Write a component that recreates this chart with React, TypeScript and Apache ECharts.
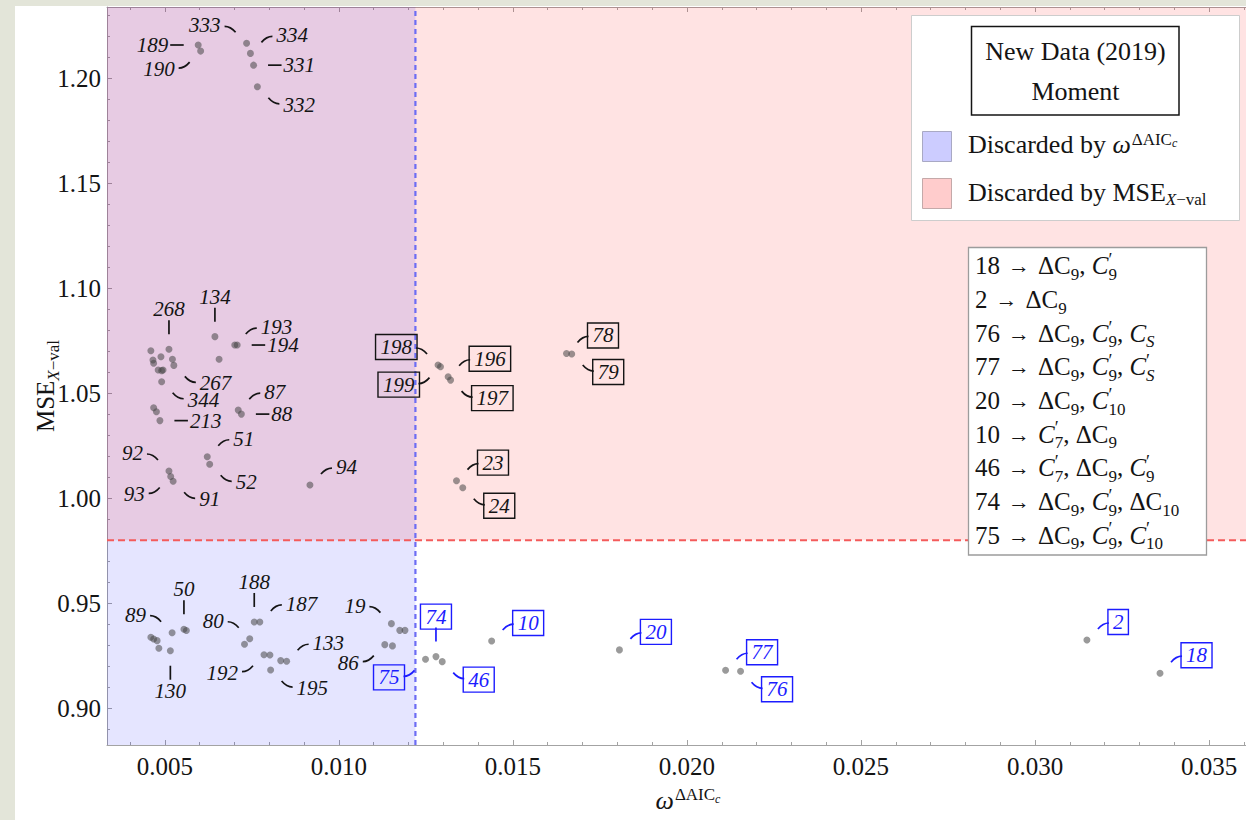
import React, { useEffect, useRef } from 'react';
import * as echarts from 'echarts';

// Each model: [label, ω^{ΔAICc}, MSE_{X-val}]; an empty label is an unlabelled model.
const topCluster: [string, number, number][] = [
  ['333', 0.00735, 1.2167],
  ['334', 0.00746, 1.2119],
  ['331', 0.00755, 1.2063],
  ['332', 0.00766, 1.196],
  ['189', 0.00596, 1.2159],
  ['190', 0.00603, 1.213],
];

const midCluster: [string, number, number][] = [
  ['', 0.0046, 1.0703],
  ['268', 0.00512, 1.071],
  ['', 0.00489, 1.0674],
  ['', 0.00466, 1.0659],
  ['', 0.00468, 1.0643],
  ['', 0.00522, 1.0662],
  ['267', 0.00526, 1.0633],
  ['', 0.00481, 1.0611],
  ['', 0.00491, 1.0608],
  ['', 0.00495, 1.0611],
  ['344', 0.00491, 1.0555],
  ['134', 0.00644, 1.077],
  ['', 0.00656, 1.0662],
  ['193', 0.00701, 1.073],
  ['194', 0.00708, 1.073],
  ['', 0.00468, 1.0431],
  ['', 0.00476, 1.0412],
  ['213', 0.00486, 1.037],
  ['87', 0.00711, 1.042],
  ['88', 0.0072, 1.0401],
  ['51', 0.00622, 1.0198],
  ['52', 0.00629, 1.0162],
  ['92', 0.00512, 1.013],
  ['93', 0.00517, 1.0104],
  ['91', 0.00524, 1.0081],
  ['94', 0.00917, 1.0063],
];

// Kept by ω but discarded by MSE (black boxed labels)
const midRight: [string, number, number][] = [
  ['198', 0.01285, 1.0635],
  ['199', 0.01292, 1.0627],
  ['196', 0.01314, 1.0579],
  ['197', 0.01321, 1.0563],
  ['78', 0.01654, 1.069],
  ['79', 0.01669, 1.0687],
  ['23', 0.01338, 1.0084],
  ['24', 0.01356, 1.005],
];

const lowCluster: [string, number, number][] = [
  ['', 0.0046, 0.9338],
  ['', 0.00468, 0.933],
  ['', 0.00478, 0.9322],
  ['', 0.00483, 0.9286],
  ['130', 0.00516, 0.9274],
  ['89', 0.00521, 0.936],
  ['50', 0.00555, 0.9376],
  ['', 0.00562, 0.937],
  ['', 0.00729, 0.9305],
  ['80', 0.00744, 0.9331],
  ['188', 0.00757, 0.9411],
  ['187', 0.00773, 0.9411],
  ['192', 0.00785, 0.9255],
  ['', 0.00802, 0.9254],
  ['195', 0.00804, 0.9182],
  ['', 0.00833, 0.9227],
  ['133', 0.0085, 0.9224],
  ['19', 0.01151, 0.9403],
  ['', 0.01175, 0.9371],
  ['', 0.0119, 0.9371],
  ['86', 0.01132, 0.9303],
  ['', 0.01154, 0.9297],
];

// Surviving models (blue boxed labels)
const retained: [string, number, number][] = [
  ['75', 0.01249, 0.9233],
  ['74', 0.01279, 0.9246],
  ['46', 0.01297, 0.9222],
  ['10', 0.01439, 0.932],
  ['20', 0.01806, 0.9278],
  ['77', 0.02111, 0.9181],
  ['76', 0.02154, 0.9176],
  ['2', 0.03149, 0.9325],
  ['18', 0.03359, 0.9167],
];

// Callout direction of each label relative to its point
const LABEL_DIR: Record<string, string> = {
  '333': 'NW', '334': 'NE', '331': 'E', '332': 'SE', '189': 'W', '190': 'SW',
  '268': 'N', '267': 'SE', '344': 'SE', '134': 'N', '193': 'NE', '194': 'E',
  '213': 'E', '87': 'NE', '88': 'E', '51': 'NE', '52': 'SE', '92': 'NW',
  '93': 'SW', '91': 'SE', '94': 'NE',
  '198': 'NW', '199': 'SW', '196': 'NE', '197': 'SE', '78': 'NE', '79': 'SE',
  '23': 'NE', '24': 'SE',
  '89': 'NW', '130': 'S', '50': 'N', '80': 'NW', '188': 'N', '187': 'NE',
  '192': 'SW', '195': 'SE', '133': 'NE', '19': 'NW', '86': 'SW',
  '75': 'SW', '74': 'N', '46': 'SE', '10': 'NE', '20': 'NE', '77': 'NE',
  '76': 'SE', '2': 'NE', '18': 'NE',
};

const X_TICKS = [0.005, 0.01, 0.015, 0.02, 0.025, 0.03, 0.035];
const Y_TICKS = [0.9, 0.95, 1.0, 1.05, 1.1, 1.15, 1.2];
const X_MINOR = Array.from({ length: 33 }, (_, i) => (i + 4) / 1000).filter((v) => Math.round(v * 1000) % 5 !== 0);
const Y_MINOR = Array.from({ length: 35 }, (_, i) => (i + 89) / 100).filter((v) => Math.round(v * 100) % 5 !== 0);

const OMEGA_CUT = 0.0122;
const MSE_CUT = 0.98;

const X_MIN = 0.00334;
const X_MAX = 0.03606;
const Y_MIN = 0.8825;
const Y_MAX = 1.234;

// Key: model number → added Wilson coefficients
const KEY_ROWS: [string, string[]][] = [
  ['18', ['dC9', 'Cp9']],
  ['2', ['dC9']],
  ['76', ['dC9', 'Cp9', 'CS']],
  ['77', ['dC9', 'Cp9', 'CpS']],
  ['20', ['dC9', 'Cp10']],
  ['10', ['Cp7', 'dC9']],
  ['46', ['Cp7', 'dC9', 'Cp9']],
  ['74', ['dC9', 'Cp9', 'dC10']],
  ['75', ['dC9', 'Cp9', 'Cp10']],
];

const SERIF = '"Liberation Serif", "Times New Roman", serif';
const INK = '#141414';
const BLUE = '#1c1cff';
const AXIS_GRAY = '#a3a3a3';
const LABEL_SIZE = 21;

type Seg = { t: string; size: number; italic?: boolean; rise?: number; hold?: boolean; kern?: number };

let measureCtx: CanvasRenderingContext2D | null = null;
function fontOf(size: number, italic?: boolean) {
  return `${italic ? 'italic ' : ''}${size}px ${SERIF}`;
}
function textWidth(t: string, size: number, italic?: boolean) {
  if (!measureCtx) measureCtx = document.createElement('canvas').getContext('2d');
  measureCtx!.font = fontOf(size, italic);
  return measureCtx!.measureText(t).width;
}
function runWidth(segs: Seg[]) {
  return segs.reduce((w, s) => (s.hold ? w : w + textWidth(s.t, s.size, s.italic) + (s.kern || 0)), 0);
}

// Lays out a run of text pieces on a shared baseline (sub/superscripts via rise)
function runText(x0: number, baseline: number, segs: Seg[], fill: string, z = 100): any[] {
  const els: any[] = [];
  let x = x0;
  for (const s of segs) {
    const b = baseline - (s.rise || 0);
    els.push({
      type: 'text',
      z,
      silent: true,
      x: x + (s.kern || 0),
      y: b - 0.3375 * s.size,
      style: {
        text: s.t,
        fill,
        font: fontOf(s.size, s.italic),
        textAlign: 'left',
        textVerticalAlign: 'middle',
      },
    });
    if (!s.hold) x += textWidth(s.t, s.size, s.italic) + (s.kern || 0);
  }
  return els;
}

const KEY_SIZE = 25;
const KEY_SUB = 17;

function termSegs(code: string): Seg[] {
  if (code.startsWith('dC')) {
    return [{ t: 'ΔC', size: KEY_SIZE }, { t: code.slice(2), size: KEY_SUB, rise: -6 }];
  }
  if (code.startsWith('Cp')) {
    const sub = code.slice(2);
    return [
      { t: 'C', size: KEY_SIZE, italic: true },
      { t: '′', size: KEY_SUB + 1, rise: 8, hold: true, kern: 0 },
      { t: sub, size: KEY_SUB, rise: -6, italic: /[A-Z]/.test(sub) },
    ];
  }
  const sub = code.slice(1);
  return [{ t: 'C', size: KEY_SIZE, italic: true }, { t: sub, size: KEY_SUB, rise: -6, italic: true }];
}

function keyRowSegs(id: string, terms: string[]): Seg[] {
  const segs: Seg[] = [{ t: id, size: KEY_SIZE }, { t: '→', size: KEY_SIZE - 3, kern: 8, rise: 1 }, { t: '', size: KEY_SIZE, kern: 8 }];
  terms.forEach((c, i) => {
    if (i > 0) segs.push({ t: ', ', size: KEY_SIZE });
    segs.push(...termSegs(c));
  });
  return segs;
}

type Labeled = { id: string; omega: number; mse: number; kind: 'plain' | 'black' | 'blue' };

const allPoints = [...topCluster, ...midCluster, ...midRight, ...lowCluster, ...retained];
const labeled: Labeled[] = [
  ...[...topCluster, ...midCluster, ...lowCluster]
    .filter((p) => p[0])
    .map((p) => ({ id: p[0], omega: p[1], mse: p[2], kind: 'plain' as const })),
  ...midRight.map((p) => ({ id: p[0], omega: p[1], mse: p[2], kind: 'black' as const })),
  ...retained.map((p) => ({ id: p[0], omega: p[1], mse: p[2], kind: 'blue' as const })),
];

function renderCallout(params: any, api: any) {
  const item = labeled[params.dataIndex];
  const [px, py] = api.coord([api.value(0), api.value(1)]);
  const dir = LABEL_DIR[item.id] || 'NE';
  const sx = dir.includes('E') ? 1 : dir.includes('W') ? -1 : 0;
  const sy = dir.includes('S') ? 1 : dir.includes('N') ? -1 : 0;
  const hw = textWidth(item.id, LABEL_SIZE, true) / 2;
  const color = item.kind === 'blue' ? BLUE : INK;
  const lineStyle = { stroke: color, lineWidth: 1.7, fill: 'none' };
  const children: any[] = [];
  let lx: number;
  let ly: number;
  if (sx && sy) {
    lx = px + sx * (hw + 26);
    ly = py + sy * 18;
    const ex = lx - sx * (hw + 4);
    const ey = ly - sy * 1;
    children.push({
      type: 'bezierCurve',
      shape: { x1: px + sx * 11, y1: py + sy * 11, x2: ex, y2: ey, cpx1: ex - sx * 6, cpy1: ey },
      style: lineStyle,
    });
  } else if (sx) {
    lx = px + sx * (hw + 30);
    ly = py;
    children.push({
      type: 'line',
      shape: { x1: px + sx * 14.5, y1: py, x2: lx - sx * (hw + 2), y2: py },
      style: lineStyle,
    });
  } else {
    lx = px;
    ly = py + sy * 40;
    children.push({
      type: 'line',
      shape: { x1: px, y1: py + sy * 15, x2: px, y2: ly - sy * 11 },
      style: lineStyle,
    });
  }
  const boxed = item.kind !== 'plain';
  children.push({
    type: 'text',
    x: lx,
    y: ly,
    style: {
      text: item.id,
      fill: color,
      font: fontOf(LABEL_SIZE, true),
      align: 'center',
      verticalAlign: 'middle',
      textAlign: 'center',
      textVerticalAlign: 'middle',
      ...(boxed ? { padding: [2, 5], lineHeight: 21, borderColor: color, borderWidth: 1.4 } : {}),
    },
  });
  return { type: 'group', children };
}

function buildGraphic(): any[] {
  const els: any[] = [];
  // legend panel
  els.push({ type: 'rect', z: 100, silent: true, shape: { x: 911.5, y: 15.5, width: 328, height: 205 }, style: { fill: '#ffffff', stroke: '#cdcdcd', lineWidth: 1 } });
  els.push({ type: 'rect', z: 100, silent: true, shape: { x: 971.5, y: 26.5, width: 207.5, height: 88.5 }, style: { fill: 'none', stroke: INK, lineWidth: 1.5 } });
  els.push({ type: 'text', z: 100, silent: true, x: 1075.5, y: 60 - 0.3375 * 26, style: { text: 'New Data (2019)', font: fontOf(26), fill: INK, textAlign: 'center', textVerticalAlign: 'middle' } });
  els.push({ type: 'text', z: 100, silent: true, x: 1075.5, y: 100 - 0.3375 * 26, style: { text: 'Moment', font: fontOf(26), fill: INK, textAlign: 'center', textVerticalAlign: 'middle' } });
  els.push({ type: 'rect', z: 100, silent: true, shape: { x: 922.5, y: 131.5, width: 29, height: 30 }, style: { fill: '#ccccff', stroke: '#a9a9c4', lineWidth: 1 } });
  els.push({ type: 'rect', z: 100, silent: true, shape: { x: 922.5, y: 178.5, width: 29, height: 30 }, style: { fill: '#ffcccc', stroke: '#c4a9a9', lineWidth: 1 } });
  els.push(
    ...runText(968, 153, [
      { t: 'Discarded by ', size: 26 },
      { t: 'ω', size: 26, italic: true },
      { t: 'ΔAIC', size: 17, rise: 8, kern: 1 },
      { t: 'c', size: 12, italic: true, rise: 6 },
    ], INK)
  );
  els.push(
    ...runText(968, 201.5, [
      { t: 'Discarded by MSE', size: 26 },
      { t: 'X', size: 17, italic: true, rise: -4 },
      { t: '−val', size: 17, rise: -4 },
    ], INK)
  );

  // model key panel
  els.push({ type: 'rect', z: 100, silent: true, shape: { x: 968.5, y: 247.5, width: 238, height: 307.5 }, style: { fill: '#ffffff', stroke: '#9c9c9c', lineWidth: 1.3 } });
  KEY_ROWS.forEach(([id, terms], i) => {
    els.push(...runText(975, 274.3 + i * 33.65, keyRowSegs(id, terms), INK));
  });

  // x-axis title
  const xTitle: Seg[] = [
    { t: 'ω', size: 26, italic: true },
    { t: 'ΔAIC', size: 17, rise: 9, kern: 1 },
    { t: 'c', size: 12, italic: true, rise: 6 },
  ];
  els.push(...runText(688 - runWidth(xTitle) / 2, 809, xTitle, INK));

  // y-axis title (rotated to read bottom-to-top)
  const yTitle: Seg[] = [
    { t: 'MSE', size: 25 },
    { t: 'X', size: 17, italic: true, rise: -5 },
    { t: '−val', size: 17, rise: -5 },
  ];
  els.push({
    type: 'group',
    z: 100,
    x: 54,
    y: 386,
    rotation: Math.PI / 2,
    children: runText(-runWidth(yTitle) / 2, 0, yTitle, INK),
  });
  return els;
}

function buildOption(): any {
  const tickFont = { fontFamily: SERIF, fontSize: 25, color: INK };
  const baseX = { type: 'value', min: X_MIN, max: X_MAX, splitLine: { show: false } };
  const baseY = { type: 'value', min: Y_MIN, max: Y_MAX, splitLine: { show: false } };
  const tickLine = { color: AXIS_GRAY, width: 1 };
  return {
    animation: false,
    grid: { left: 107, top: 7, right: 0, bottom: 75, containLabel: false, outerBoundsMode: 'none' },
    xAxis: [
      {
        ...baseX,
        position: 'bottom',
        axisLine: { show: true, lineStyle: { color: AXIS_GRAY, width: 1 } },
        axisTick: { show: true, inside: true, length: 5, customValues: X_TICKS, lineStyle: tickLine },
        axisLabel: { show: true, customValues: X_TICKS, margin: 9, formatter: (v: number) => v.toFixed(3), ...tickFont },
      },
      {
        ...baseX,
        position: 'bottom',
        axisLine: { show: false },
        axisTick: { show: true, inside: true, length: 3, customValues: X_MINOR, lineStyle: tickLine },
        axisLabel: { show: false },
      },
      {
        ...baseX,
        position: 'top',
        axisLine: { show: true, lineStyle: { color: AXIS_GRAY, width: 1 } },
        axisTick: { show: true, inside: true, length: 5, customValues: X_TICKS, lineStyle: tickLine },
        axisLabel: { show: false },
      },
      {
        ...baseX,
        position: 'top',
        axisLine: { show: false },
        axisTick: { show: true, inside: true, length: 3, customValues: X_MINOR, lineStyle: tickLine },
        axisLabel: { show: false },
      },
    ],
    yAxis: [
      {
        ...baseY,
        position: 'left',
        axisLine: { show: true, lineStyle: { color: AXIS_GRAY, width: 1 } },
        axisTick: { show: true, inside: true, length: 5, customValues: Y_TICKS, lineStyle: tickLine },
        axisLabel: { show: true, customValues: Y_TICKS, margin: 6, formatter: (v: number) => v.toFixed(2), ...tickFont },
      },
      {
        ...baseY,
        position: 'left',
        axisLine: { show: false },
        axisTick: { show: true, inside: true, length: 3, customValues: Y_MINOR, lineStyle: tickLine },
        axisLabel: { show: false },
      },
    ],
    series: [
      {
        type: 'scatter',
        name: 'models',
        xAxisIndex: 0,
        yAxisIndex: 0,
        symbolSize: 7,
        z: 3,
        silent: true,
        itemStyle: { color: 'rgba(70,70,70,0.68)' },
        data: allPoints.map((p) => [p[1], p[2]]),
        markArea: {
          silent: true,
          data: [
            [
              { xAxis: X_MIN, yAxis: Y_MIN, itemStyle: { color: 'rgba(0,0,255,0.1)' } },
              { xAxis: OMEGA_CUT, yAxis: Y_MAX },
            ],
            [
              { xAxis: X_MIN, yAxis: MSE_CUT, itemStyle: { color: 'rgba(255,0,0,0.11)' } },
              { xAxis: X_MAX, yAxis: Y_MAX },
            ],
          ],
        },
      },
      {
        // MSE threshold
        type: 'line',
        name: 'mse-cut',
        xAxisIndex: 0,
        yAxisIndex: 0,
        z: 2,
        silent: true,
        symbol: 'none',
        lineStyle: { color: '#f45b5b', width: 2, type: [7, 4] },
        data: [[X_MIN, MSE_CUT], [X_MAX, MSE_CUT]],
      },
      {
        // ω threshold
        type: 'line',
        name: 'omega-cut',
        xAxisIndex: 0,
        yAxisIndex: 0,
        z: 2,
        silent: true,
        symbol: 'none',
        lineStyle: { color: '#6c6cf4', width: 2.2, type: [5, 4] },
        data: [[OMEGA_CUT, Y_MIN], [OMEGA_CUT, Y_MAX]],
      },
      {
        type: 'custom',
        name: 'callouts',
        xAxisIndex: 0,
        yAxisIndex: 0,
        z: 4,
        silent: true,
        clip: false,
        renderItem: renderCallout,
        data: labeled.map((p) => [p.omega, p.mse]),
      },
    ],
    graphic: buildGraphic(),
  };
}

export default function App() {
  const ref = useRef<HTMLDivElement>(null);
  useEffect(() => {
    if (!ref.current) return;
    const chart = echarts.init(ref.current, null, { renderer: 'svg' });
    chart.setOption(buildOption());
    return () => chart.dispose();
  }, []);
  return (
    <div style={{ position: 'fixed', left: 0, top: 0, width: 1246, height: 820, background: '#e3e5d9', overflow: 'hidden' }}>
      <div style={{ position: 'absolute', left: 15, top: 6, right: 0, bottom: 0, background: '#ffffff' }} />
      <div ref={ref} style={{ position: 'absolute', left: 0, top: 0, width: 1246, height: 820 }} />
    </div>
  );
}
